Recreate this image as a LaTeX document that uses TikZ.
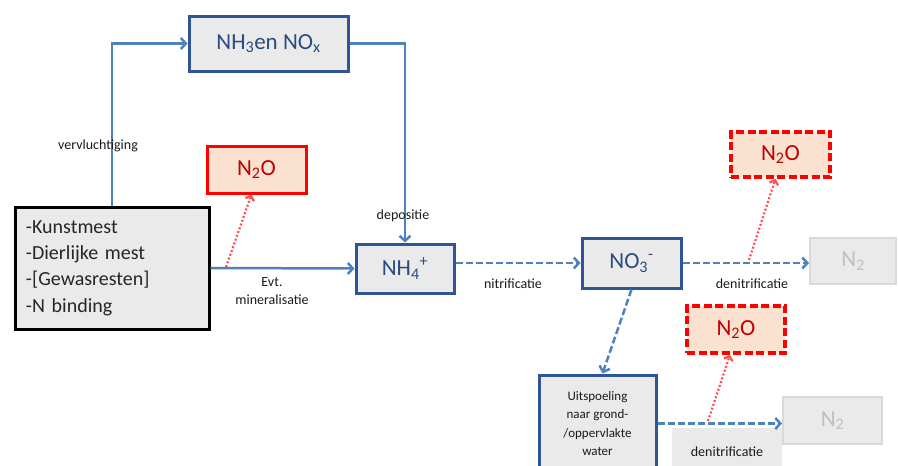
\documentclass[tikz,border=0pt]{standalone}
\usepackage{fontspec}
\setmainfont{Carlito}
\usetikzlibrary{arrows.meta}
\definecolor{bluebd}{HTML}{2F5597}
\definecolor{bluetxt}{HTML}{2A4A80}
\definecolor{boxgray}{HTML}{EAEAEA}
\definecolor{arrowblue}{HTML}{4F81BD}
\definecolor{redbd}{HTML}{FF0000}
\definecolor{peach}{HTML}{FBE2D0}
\definecolor{redtxt}{HTML}{C00000}
\definecolor{redarrow}{HTML}{FF5050}
\definecolor{graybd}{HTML}{D9D9D9}
\definecolor{graytxt}{HTML}{BFBFBF}
\definecolor{labeltxt}{HTML}{1A1A1A}
\begin{document}
\begin{tikzpicture}[x=1pt,y=-1pt,
  bluebox/.style={draw=bluebd, line width=3pt, fill=boxgray, text=bluetxt, inner sep=0pt, font=\fontsize{23}{27}\selectfont},
  srcbox/.style={draw=black, line width=3pt, fill=boxgray, text=black!85, inner ysep=0pt, font=\fontsize{20}{26.3}\selectfont},
  redbox/.style={draw=redbd, line width=3pt, fill=peach, text=redtxt, inner sep=0pt, font=\fontsize{23}{27}\selectfont},
  reddashbox/.style={redbox, line width=3.5pt, dash pattern=on 8pt off 3.5pt},
  graybox/.style={draw=graybd, line width=2pt, fill=boxgray, text=graytxt, inner sep=0pt, font=\fontsize{23}{27}\selectfont},
  flow/.style={draw=arrowblue, line width=2.5pt, -{Straight Barb[length=5pt,width=11pt]}},
  flowdash/.style={flow, dash pattern=on 7pt off 3pt},
  emit/.style={draw=redarrow, line width=2.2pt, dash pattern=on 2pt off 2pt, -{Straight Barb[length=4pt,width=9pt]}},
  lbl/.style={font=\fontsize{14}{18}\selectfont, text=labeltxt, inner sep=0pt}]
\useasboundingbox (0,0) rectangle (898,466);
\clip (0,0) rectangle (898,466);

% boxes
\node[srcbox, text width=172pt, align=left, minimum height=122pt, inner xsep=11pt] (src) at (112,268)
  {-Kunstmest\\-Dierlijke mest\\-[Gewasresten]\\-N binding};
\node[bluebox, minimum width=159pt, minimum height=55pt] (nh3) at (268.5,43.5)
  {NH\textsubscript{3}en NO\textsubscript{x}};
\node[redbox, minimum width=99pt, minimum height=47pt] (n2oa) at (256.5,169.5)
  {N\textsubscript{2}O};
\node[bluebox, minimum width=98pt, minimum height=49pt] (nh4) at (405,268.5)
  {NH\textsubscript{4}\textsuperscript{+}};
\node[bluebox, minimum width=99pt, minimum height=50pt] (no3) at (631.5,263)
  {NO\textsubscript{3}\textsuperscript{-}};
\node[reddashbox, minimum width=99pt, minimum height=45pt] (n2ob) at (780.5,154.5)
  {N\textsubscript{2}O};
\node[graybox, minimum width=86pt, minimum height=46pt] (n2a) at (853,261)
  {N\textsubscript{2}};
\node[bluebox, minimum width=117pt, minimum height=97pt, align=center, text=labeltxt,
  font=\fontsize{13}{18.5}\selectfont] (uit) at (597.5,423.5)
  {Uitspoeling\\naar grond-\\/oppervlakte\\water};
\node[reddashbox, minimum width=98pt, minimum height=47pt] (n2oc) at (736,329.5)
  {N\textsubscript{2}O};
\node[graybox, minimum width=99pt, minimum height=47pt] (n2b) at (832.5,420.5)
  {N\textsubscript{2}};
\node[fill=boxgray, minimum width=110pt, minimum height=42pt, inner sep=0pt] (denbg) at (727,449) {};

% connectors
\draw[flow] (src.north) |- (nh3.west);
\draw[flow] (nh3.east) -| (nh4.north);
\draw[flow] (src.east) -- (nh4.west);
\draw[flowdash] (nh4.east |- no3.west) -- (no3.west);
\draw[flowdash] (no3.east) -- (no3.east -| n2a.west);
\draw[flowdash] (no3.south) -- ([xshift=5pt]uit.north);
\draw[flowdash] (uit.east) -- (uit.east -| n2b.west);

\coordinate (ea) at (226,267);
\coordinate (eb) at (749,260);
\coordinate (ec) at (708,421);
\draw[emit] (ea) -- ([xshift=-5pt]n2oa.south);
\draw[emit] (eb) -- ([xshift=-5pt]n2ob.south);
\draw[emit] (ec) -- ([xshift=-6pt]n2oc.south);

% labels
\node[lbl] (lv) at (98,146) {vervluchtiging};
\node[lbl] (ld) at (403,216) {depositie};
\node[lbl, align=center] (lm) at (272,291) {Evt.\\mineralisatie};
\node[lbl] (ln) at (513,284) {nitrificatie};
\node[lbl] (ldn) at (752,284) {denitrificatie};
\node[lbl] (ldn2) at (727,452) {denitrificatie};
\end{tikzpicture}
\end{document}
